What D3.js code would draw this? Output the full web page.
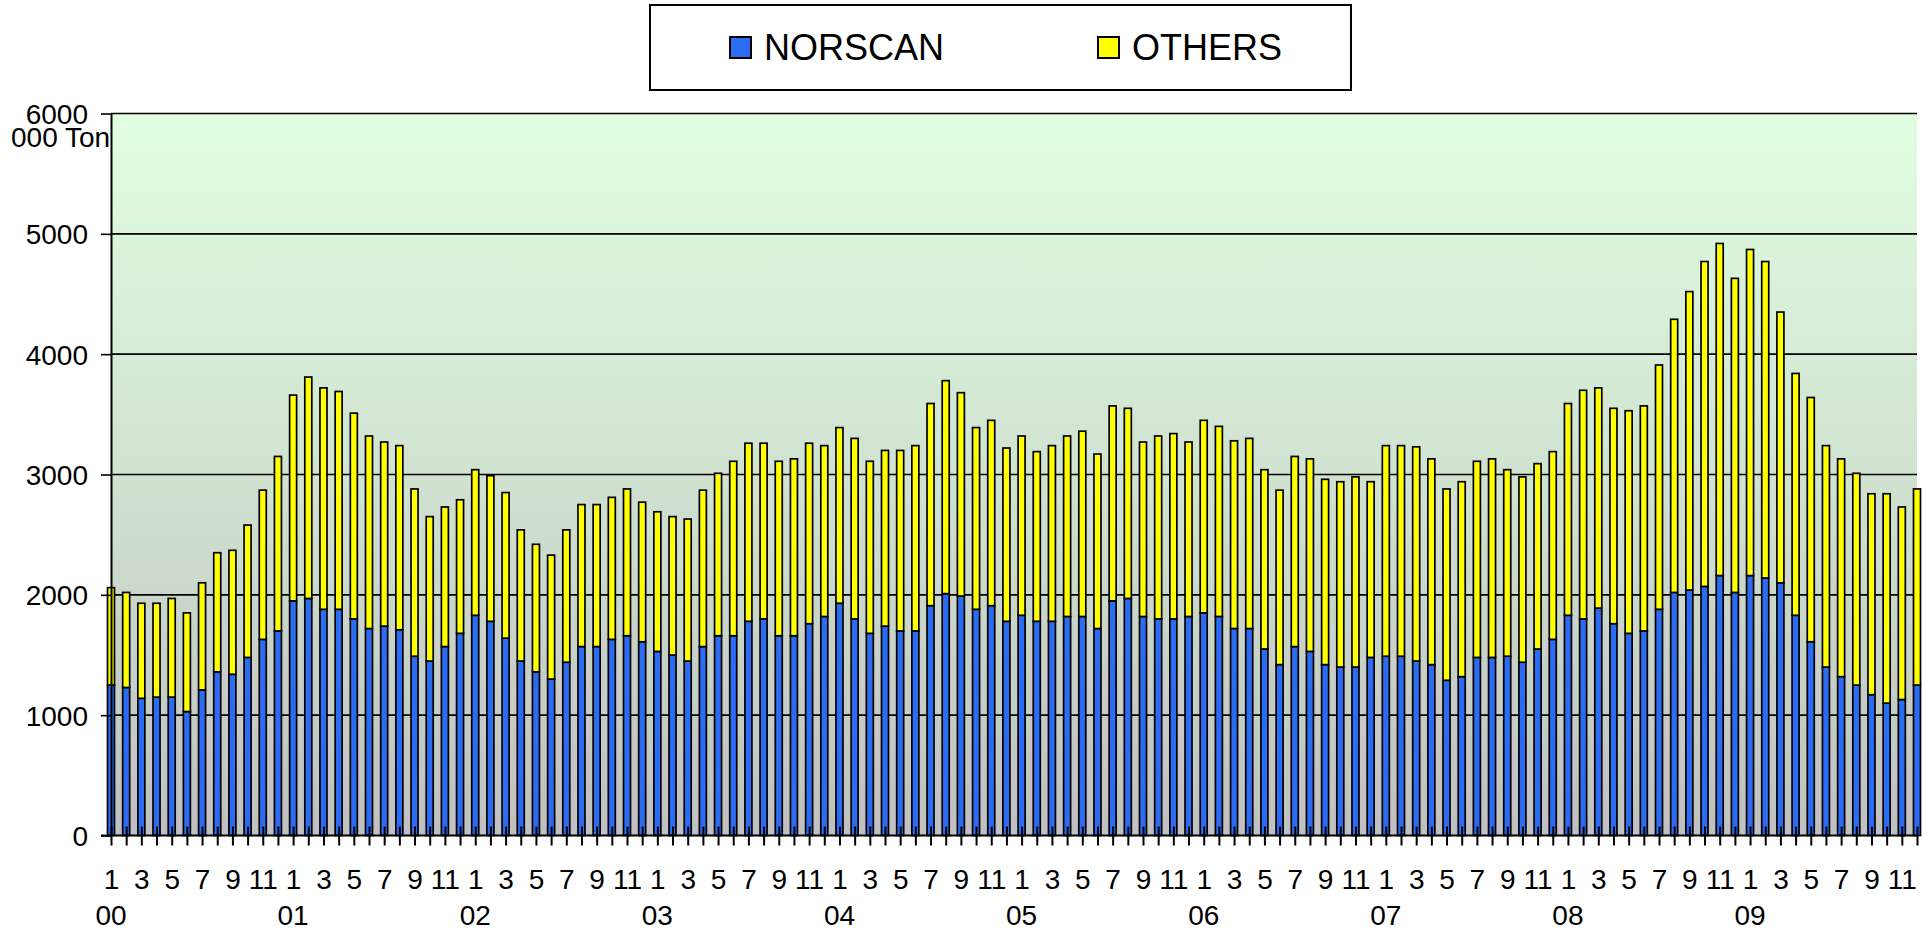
<!DOCTYPE html>
<html>
<head>
<meta charset="utf-8">
<script src="https://cdn.jsdelivr.net/npm/d3@7"></script>
<style>
  body{ margin:0; background:#fff; }
  svg text{ font-family:"Liberation Sans", Arial, sans-serif; fill:#000; }
</style>
</head>
<body>
<svg id="chart" width="1931" height="932"></svg>
<script>
// Years shown under the January of each year.
const years = ["00","01","02","03","04","05","06","07","08","09"];

// Monthly tonnage, 000 tonnes, Jan 2000 .. Dec 2009.
const norscan = [
  1250,1230,1140,1150,1150,1030,1210,1360,1340,1480,1630,1700,
  1950,1970,1880,1880,1800,1720,1740,1710,1490,1450,1570,1680,
  1830,1780,1640,1450,1360,1300,1440,1570,1570,1630,1660,1610,
  1530,1500,1450,1570,1660,1660,1780,1800,1660,1660,1760,1820,
  1930,1800,1680,1740,1700,1700,1910,2010,1990,1880,1910,1780,
  1830,1780,1780,1820,1820,1720,1950,1970,1820,1800,1800,1820,
  1850,1820,1720,1720,1550,1420,1570,1530,1420,1400,1400,1480,
  1490,1490,1450,1420,1290,1320,1480,1480,1490,1440,1550,1630,
  1830,1800,1890,1760,1680,1700,1880,2020,2040,2070,2160,2020,
  2160,2140,2100,1830,1610,1400,1320,1250,1170,1100,1130,1250
];
const others = [
  810,790,790,780,820,820,890,990,1030,1100,1240,1450,
  1710,1840,1840,1810,1710,1600,1530,1530,1390,1200,1160,1110,
  1210,1210,1210,1090,1060,1030,1100,1180,1180,1180,1220,1160,
  1160,1150,1180,1300,1350,1450,1480,1460,1450,1470,1500,1420,
  1460,1500,1430,1460,1500,1540,1680,1770,1690,1510,1540,1440,
  1490,1410,1460,1500,1540,1450,1620,1580,1450,1520,1540,1450,
  1600,1580,1560,1580,1490,1450,1580,1600,1540,1540,1580,1460,
  1750,1750,1780,1710,1590,1620,1630,1650,1550,1540,1540,1560,
  1760,1900,1830,1790,1850,1870,2030,2270,2480,2700,2760,2610,
  2710,2630,2250,2010,2030,1840,1810,1760,1670,1740,1600,1630
];

const seriesNames = ["NORSCAN","OTHERS"];
const yTicks = [0,1000,2000,3000,4000,5000,6000];

const colors = {NORSCAN:"#2c6cf2", OTHERS:"#ffff00"};

// Build the table for the stack.
let table = norscan.map((v,i)=>({idx:i, NORSCAN:v, OTHERS:others[i]}));

const plotLeft = 111, plotRight = 1917, plotTop = 113.5, plotBottom = 835.5;

const svg = d3.select("#chart");

const x = d3.scalePoint()
  .domain(d3.range(table.length))
  .range([plotLeft, plotRight]);

const y = d3.scaleLinear()
  .domain([0, 6000])
  .range([plotBottom, plotTop]);

// Gradient for the plot area.
let defs = svg.append("defs");
let grad = defs.append("linearGradient")
  .attr("id","bg")
  .attr("x1",0).attr("y1",0).attr("x2",0).attr("y2",1);
grad.append("stop").attr("offset","0%").attr("stop-color","#e0ffe0");
grad.append("stop").attr("offset","55%").attr("stop-color","#cfdfcf");
grad.append("stop").attr("offset","100%").attr("stop-color","#c0c0c0");

// Unit label, sits behind the plot area (gets clipped by it like the original).
svg.append("text")
  .attr("x", 11)
  .attr("y", 147)
  .style("font-size","28px")
  .text("000 Tonnes");

svg.append("rect")
  .attr("x", plotLeft)
  .attr("y", plotTop)
  .attr("width", plotRight-plotLeft)
  .attr("height", plotBottom-plotTop)
  .attr("fill","url(#bg)");

// Gridlines
svg.append("g")
  .selectAll("line")
  .data(yTicks.filter(d=>d>0))
  .enter()
  .append("line")
    .attr("x1", plotLeft)
    .attr("x2", plotRight)
    .attr("y1", d=>y(d))
    .attr("y2", d=>y(d))
    .attr("stroke","#000")
    .attr("stroke-width",1.6);

// Bars
const stacked = d3.stack().keys(seriesNames)(table);
const barW = 7;

svg.append("g")
  .selectAll("g")
  .data(stacked)
  .enter()
  .append("g")
    .attr("fill", d=>colors[d.key])
  .selectAll("rect")
  .data(d=>d)
  .enter()
  .append("rect")
    .attr("x", d=>x(d.data.idx) - barW/2)
    .attr("y", d=>y(d[1]))
    .attr("width", barW)
    .attr("height", d=>y(d[0]) - y(d[1]))
    .attr("stroke","#000")
    .attr("stroke-width",1.7);

// Y axis
let yAxis = svg.append("g")
  .attr("transform", `translate(${plotLeft},0)`)
  .call(d3.axisLeft(y)
    .tickValues(yTicks)
    .tickFormat(d3.format("d"))
    .tickSize(10)
    .tickSizeOuter(0)
    .tickPadding(13));
yAxis.select(".domain").attr("stroke","#000").attr("stroke-width",2);
yAxis.selectAll(".tick line").attr("stroke","#000").attr("stroke-width",1.6).attr("x2",-10);
yAxis.selectAll(".tick text")
  .style("font-size","28px")
  .attr("dy","0.36em");

// X axis: ticks on every month crossing the axis, labels on odd months.
let xAxis = svg.append("g")
  .attr("transform", `translate(0,${plotBottom})`)
  .call(d3.axisBottom(x)
    .tickSize(10)
    .tickSizeOuter(0)
    .tickFormat(i=> (i%12)%2==0 ? String(i%12+1) : ""));
xAxis.select(".domain").attr("stroke","#000").attr("stroke-width",2)
  .attr("d", `M${plotLeft-10},0H${plotRight}`);
xAxis.selectAll(".tick line")
  .attr("stroke","#000")
  .attr("stroke-width",2)
  .attr("y1",-9)
  .attr("y2",10);
xAxis.selectAll(".tick text")
  .attr("y", 53)
  .attr("dy", 0)
  .style("font-size","28px");

// Year labels under each January.
svg.append("g")
  .selectAll("text")
  .data(years)
  .enter()
  .append("text")
    .attr("x", (d,i)=>x(i*12))
    .attr("y", 925)
    .attr("text-anchor","middle")
    .style("font-size","28px")
    .text(d=>d);

// Legend
let legend = svg.append("g");
legend.append("rect")
  .attr("x",650).attr("y",5)
  .attr("width",701).attr("height",85)
  .attr("fill","#fff")
  .attr("stroke","#000")
  .attr("stroke-width",2);

let legendX = [730, 1098];
let items = legend.selectAll("g.item")
  .data(seriesNames)
  .enter()
  .append("g")
    .attr("class","item")
    .attr("transform",(d,i)=>`translate(${legendX[i]},37)`);
items.append("rect")
  .attr("width",21).attr("height",21)
  .attr("fill", d=>colors[d])
  .attr("stroke","#000")
  .attr("stroke-width",2);
items.append("text")
  .attr("x",34)
  .attr("y",23)
  .style("font-size","36px")
  .text(d=>d);
</script>
</body>
</html>
